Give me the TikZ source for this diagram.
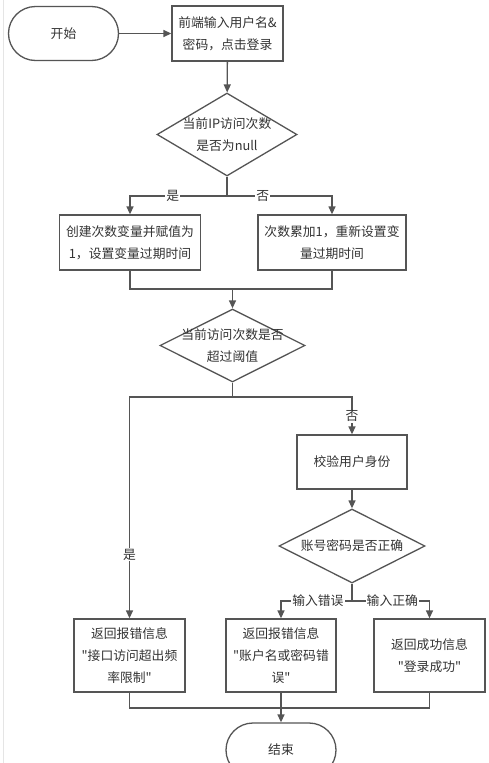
\documentclass[tikz,border=0pt]{standalone}
\usepackage{fontspec}
\newfontfamily\cjk{Noto Sans CJK SC}
\usetikzlibrary{shapes.geometric,arrows.meta}
\definecolor{linegray}{HTML}{555555}
\definecolor{textgray}{HTML}{333333}
\begin{document}
\begin{tikzpicture}[x=1pt,y=-1pt,line width=1.3pt,draw=linegray,text=textgray,font=\cjk\fontsize{12.8}{22}\selectfont]
\tikzstyle{box}=[draw=linegray,shape=rectangle,align=center,inner sep=0pt,minimum width=111pt,minimum height=55pt]
\tikzstyle{term}=[draw=linegray,shape=rectangle,rounded corners=27pt,inner sep=0pt,minimum width=110pt,minimum height=54pt]
\tikzstyle{decision}=[draw=linegray,shape=diamond,inner sep=0pt]
\tikzstyle{arr}=[draw=linegray,-{Triangle[length=8pt,width=7pt]}]
\tikzstyle{lbl}=[fill=white,inner sep=1pt,text=textgray]
\useasboundingbox (0,0) rectangle (489,763);
\clip (0,0) rectangle (489,763);
\fill[white] (0,0) rectangle (489,763);
\draw[line width=0.8pt,gray!20] (3,0) -- (3,763);

\path (63.5,33.5) node[term](start){开始}
      (227.5,33.5) node[box](input){前端输入用户名\&\\密码，点击登录};
\path (227,134.5) node[decision,minimum width=140pt,minimum height=83pt,
      label={[align=center,text=textgray]center:当前IP访问次数\\是否为null}](ipnull){};
\path (130,242.5) node[box,minimum width=141pt](create){创建次数变量并赋值为\\1，设置变量过期时间}
      (332,242.5) node[box,minimum width=148pt](incr){次数累加1，重新设置变\\量过期时间};
\path (232.5,345.5) node[decision,minimum width=145pt,minimum height=73pt,
      label={[align=center,text=textgray]center:当前访问次数是否\\超过阈值}](over){};
\path (352,462) node[box,minimum width=110pt,minimum height=54pt](check){校验用户身份};
\path (352,546) node[decision,minimum width=146pt,minimum height=74pt,
      label={[text=textgray]center:账号密码是否正确}](pwd){};
\path (129.5,655.5) node[box,minimum height=73pt](errfreq){返回报错信息\\"接口访问超出频\\率限制"}
      (281,655.5) node[box,minimum width=110pt,minimum height=73pt](errpwd){返回报错信息\\"账户名或密码错\\误"}
      (429.5,655.5) node[box,minimum height=73pt](ok){返回成功信息\\"登录成功"};
\path (281,750) node[term](finish){结束};

\coordinate (s1) at (227,196);
\coordinate (j1) at (232.5,289);
\coordinate (s2) at (232.5,397);
\coordinate (s3) at (352,601);
\coordinate (j2) at (281,708);

\draw[arr] (start) -- (input);
\draw[arr] (input) -- (ipnull);
\draw[] (ipnull.south) -- (s1);
\draw[arr] (s1) -| node[lbl,pos=0.28]{是} (create.north);
\draw[arr] (s1) -| node[lbl,pos=0.17]{否} (incr.north);
\draw[] (create.south) |- (j1);
\draw[] (incr.south) |- (j1);
\draw[arr] (j1) -- (over.north);
\draw[] (over.south) -- (s2);
\draw[arr] (s2) -| node[lbl,pos=0.856]{是} (errfreq.north);
\draw[arr] (s2) -| node[lbl,pos=0.76]{否} (check.north);
\draw[arr] (check) -- (pwd);
\draw[] (pwd.south) -- (s3);
\draw[arr] (s3) -| node[lbl,pos=0.24]{输入错误} (errpwd.north);
\draw[arr] (s3) -| node[lbl,pos=0.26]{输入正确} (ok.north);
\draw[] (errfreq.south) |- (j2);
\draw[] (ok.south) |- (j2);
\draw[arr] (errpwd.south) -- (finish.north);
\end{tikzpicture}
\end{document}
